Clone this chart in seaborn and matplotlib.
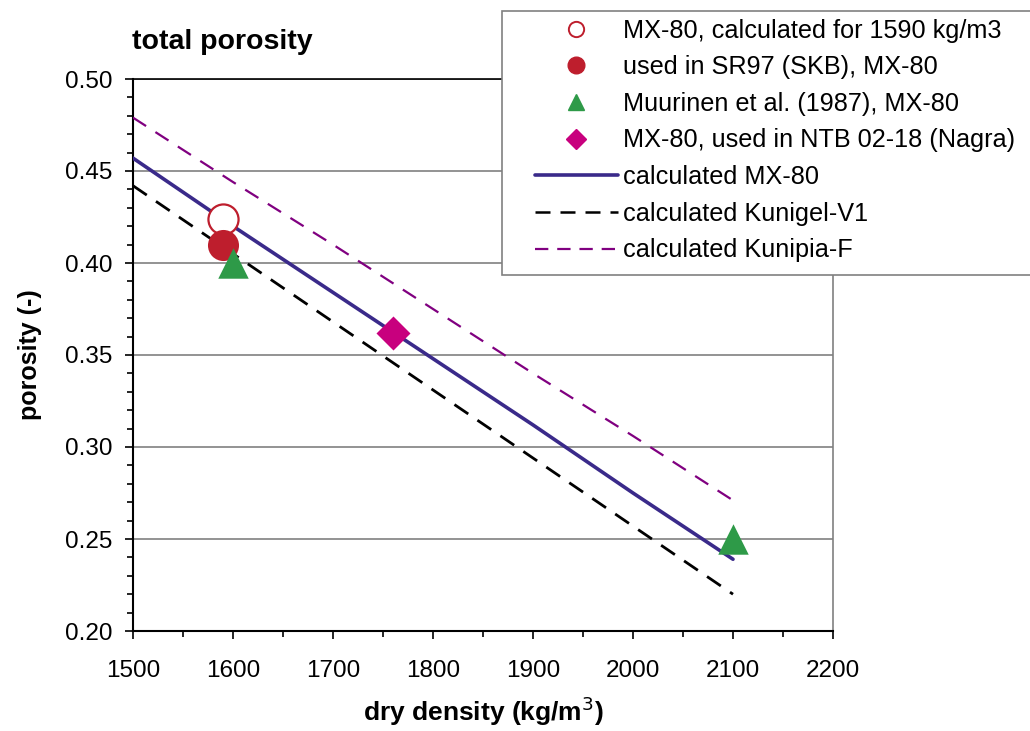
import matplotlib
matplotlib.use("Agg")
import matplotlib.pyplot as plt
from matplotlib.lines import Line2D
from matplotlib.patches import Rectangle
from matplotlib.ticker import MultipleLocator, FormatStrFormatter
import seaborn as sns
import pandas as pd

# ---- data ----
density = [1500, 1600, 1700, 1800, 1900, 2000, 2100]
calc_mx80 = [0.457, 0.420, 0.384, 0.348, 0.312, 0.275, 0.239]
calc_kunigel = [0.442, 0.405, 0.368, 0.331, 0.294, 0.257, 0.220]
calc_kunipia = [0.479, 0.444, 0.410, 0.375, 0.340, 0.306, 0.271]

open_x = [1590]
open_y = [0.424]
sr97_x = [1590]
sr97_y = [0.410]
muur_x = [1600, 2100]
muur_y = [0.400, 0.250]
nagra_x = [1760]
nagra_y = [0.362]

labels = ["MX-80, calculated for 1590 kg/m3",
          "used in SR97 (SKB), MX-80",
          "Muurinen et al. (1987), MX-80",
          "MX-80, used in NTB 02-18 (Nagra)",
          "calculated MX-80",
          "calculated Kunigel-V1",
          "calculated Kunipia-F"]

sns.set_theme(style="white")
plt.rcParams['font.family'] = ['Liberation Sans', 'DejaVu Sans']
plt.rcParams.update({"text.color": "black", "axes.labelcolor": "black",
                     "xtick.color": "black", "ytick.color": "black"})

W, H = 1030, 731
fig = plt.figure(figsize=(W/100, H/100), dpi=100)
ax = fig.add_axes([133/W, 1-631/H, 700/W, 552/H])

c_mx = "#3a2a8a"
c_kunigel = "#000000"
c_kunipia = "#800080"
c_red = "#be1e2d"
c_green = "#2e9a48"
c_mag = "#c8007e"

df_lines = pd.DataFrame({"x": density, "mx": calc_mx80, "kg": calc_kunigel, "kp": calc_kunipia})
sns.lineplot(data=df_lines, x="x", y="kp", ax=ax, color=c_kunipia, linewidth=1.6, zorder=3)
sns.lineplot(data=df_lines, x="x", y="kg", ax=ax, color=c_kunigel, linewidth=2.0, zorder=3)
sns.lineplot(data=df_lines, x="x", y="mx", ax=ax, color=c_mx, linewidth=2.6, zorder=3)
ln = ax.get_lines()
ln[0].set_dashes((7, 5))
ln[1].set_dashes((6, 4))

sns.scatterplot(x=open_x, y=open_y, ax=ax, s=470, marker="o", facecolor="white",
                edgecolor=c_red, linewidth=1.6, zorder=4)
sns.scatterplot(x=sr97_x, y=sr97_y, ax=ax, s=500, marker="o", color=c_red,
                edgecolor=c_red, linewidth=0, zorder=5)
sns.scatterplot(x=muur_x, y=muur_y, ax=ax, s=480, marker="^", color=c_green,
                edgecolor=c_green, linewidth=0, zorder=6)
sns.scatterplot(x=nagra_x, y=nagra_y, ax=ax, s=300, marker="D", color=c_mag,
                edgecolor=c_mag, linewidth=0, zorder=6)

ax.set_xlim(1500, 2200)
ax.set_ylim(0.20, 0.50)
ax.xaxis.set_major_locator(MultipleLocator(100))
ax.xaxis.set_minor_locator(MultipleLocator(50))
ax.yaxis.set_major_locator(MultipleLocator(0.05))
ax.yaxis.set_minor_locator(MultipleLocator(0.01))
ax.yaxis.set_major_formatter(FormatStrFormatter("%.2f"))
ax.tick_params(axis="both", which="major", direction="out", length=6, width=1.2,
               labelsize=17.5, color="black", labelcolor="black", bottom=True, left=True)
ax.tick_params(axis="y", which="major", pad=9)
ax.tick_params(axis="x", which="major", pad=15)
ax.tick_params(axis="both", which="minor", direction="out", length=4.5, width=1.2,
               color="black", bottom=True, left=True)
ax.yaxis.grid(True, which="major", color="#808080", linewidth=1.2)
ax.xaxis.grid(False)
ax.set_axisbelow(True)

for s in ["left", "bottom"]:
    ax.spines[s].set_color("black")
    ax.spines[s].set_linewidth(1.5)
ax.spines["top"].set_color("black")
ax.spines["top"].set_linewidth(1.2)
ax.spines["right"].set_color("#808080")
ax.spines["right"].set_linewidth(1.2)

ax.set_xlabel("dry density (kg/m$^3$)", fontsize=19, fontweight="bold", labelpad=9,
              color="black")
ax.set_ylabel("porosity (-)", fontsize=18, fontweight="bold", labelpad=16, color="black")
fig.text(132/W, 1-42/H, "total porosity", fontsize=20.5, fontweight="bold",
         ha="left", va="center", color="black")

# legend frame (extends beyond the right edge of the figure)
fig.patches.append(Rectangle((502/W, 1-275/H), 560/W, 264/H, transform=fig.transFigure,
                             facecolor="white", edgecolor="#808080", linewidth=1.2,
                             zorder=4))

handles = [
    Line2D([], [], linestyle="none", marker="o", markersize=11, markerfacecolor="white",
           markeredgecolor=c_red, markeredgewidth=1.4),
    Line2D([], [], linestyle="none", marker="o", markersize=12, color=c_red),
    Line2D([], [], linestyle="none", marker="^", markersize=12, color=c_green),
    Line2D([], [], linestyle="none", marker="D", markersize=10, color=c_mag),
    Line2D([], [], color=c_mx, linewidth=2.6),
    Line2D([], [], color=c_kunigel, linewidth=1.8, dashes=(6, 4)),
    Line2D([], [], color=c_kunipia, linewidth=1.6, dashes=(6, 4)),
]
leg = fig.legend(handles, labels, loc="upper left",
                 bbox_to_anchor=(527/W, 1-11/H), frameon=False,
                 fontsize=18.2, handlelength=3.3, handletextpad=0.2,
                 labelspacing=0.5, borderpad=0.3, borderaxespad=0)
leg.set_zorder(5)
for t in leg.get_texts():
    t.set_color("black")

fig.savefig("out.png", dpi=100, facecolor="white")
